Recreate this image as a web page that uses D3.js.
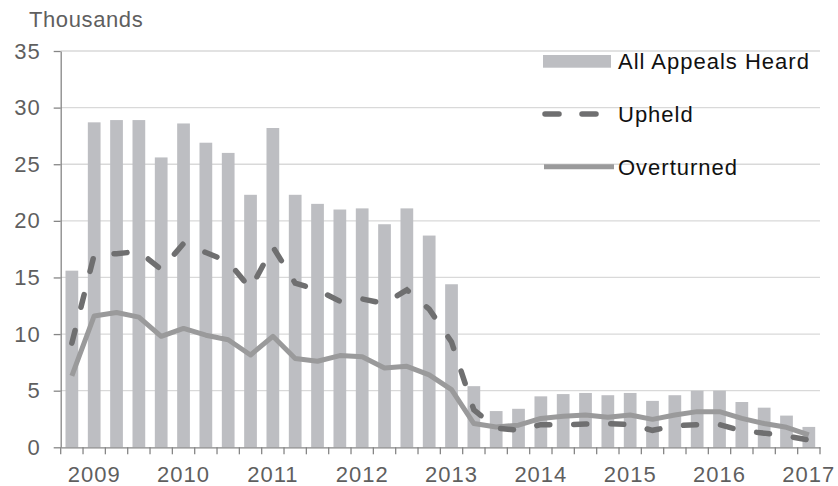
<!DOCTYPE html>
<html>
<head>
<meta charset="utf-8">
<script src="https://cdn.jsdelivr.net/npm/d3@7"></script>
<style>
  body { margin: 0; background: #fff; }
  svg { display: block; font-family: "Liberation Sans", Arial, sans-serif; }
</style>
</head>
<body>
<div class="chartPlaceholder"></div>
<script>
const quarters = [
    '2008 Q4',
    '2009 Q1', '2009 Q2', '2009 Q3', '2009 Q4',
    '2010 Q1', '2010 Q2', '2010 Q3', '2010 Q4',
    '2011 Q1', '2011 Q2', '2011 Q3', '2011 Q4',
    '2012 Q1', '2012 Q2', '2012 Q3', '2012 Q4',
    '2013 Q1', '2013 Q2', '2013 Q3', '2013 Q4',
    '2014 Q1', '2014 Q2', '2014 Q3', '2014 Q4',
    '2015 Q1', '2015 Q2', '2015 Q3', '2015 Q4',
    '2016 Q1', '2016 Q2', '2016 Q3', '2016 Q4',
    '2017 Q1'
];
const allHeard = [
    15.6, 28.7, 28.9, 28.9, 25.6, 28.6, 26.9, 26.0, 22.3, 28.2, 22.3, 21.5,
    21.0, 21.1, 19.7, 21.1, 18.7, 14.4, 5.4, 3.2, 3.4, 4.5, 4.7, 4.8,
    4.6, 4.8, 4.1, 4.6, 5.0, 5.0, 4.0, 3.5, 2.8, 1.8
];
const upheld = [
    9.2, 17.0, 17.1, 17.3, 15.7, 18.0, 17.2, 16.4, 14.0, 17.7, 14.5, 13.9,
    12.9, 13.1, 12.7, 13.9, 12.2, 9.3, 3.3, 1.7, 1.5, 2.0, 2.0, 2.05,
    2.1, 2.0, 1.5, 1.9, 2.0, 2.0, 1.45, 1.25, 1.0, 0.65
];
const overturned = [
    6.3, 11.6, 11.9, 11.5, 9.8, 10.5, 9.9, 9.5, 8.15, 9.8, 7.85, 7.6,
    8.1, 8.0, 7.0, 7.15, 6.4, 5.1, 2.1, 1.8, 1.95, 2.55, 2.75, 2.85,
    2.65, 2.85, 2.47, 2.85, 3.15, 3.15, 2.55, 2.1, 1.77, 1.1
];
const yTicks = [0, 5, 10, 15, 20, 25, 30, 35];
const yearLabels = {
    '2009 Q1': '2009', '2010 Q1': '2010', '2011 Q1': '2011', '2012 Q1': '2012',
    '2013 Q1': '2013', '2014 Q1': '2014', '2015 Q1': '2015', '2016 Q1': '2016',
    '2017 Q1': '2017'
};
const legendNames = ['All Appeals Heard', 'Upheld', 'Overturned'];

const WIDTH = 838;
const HEIGHT = 486;
const PLOT = { LEFT: 60.7, RIGHT: 820, TOP: 51, BOTTOM: 447.3 };
const BAR_COLOR = '#bdbec2';
const UPHELD_COLOR = '#6f6f70';
const OVERTURNED_COLOR = '#9a9a9b';
const TEXT_COLOR = '#5f5f5f';

let svg = d3
    .select('.chartPlaceholder')
    .append('svg')
    .attr('width', WIDTH)
    .attr('height', HEIGHT);

let xScale = d3.scaleBand()
    .domain(quarters)
    .range([PLOT.LEFT, PLOT.RIGHT])
    .paddingInner(0.43)
    .paddingOuter(0.215);

let bandScale = d3.scaleBand().domain(quarters).range([PLOT.LEFT, PLOT.RIGHT]);

let yScale = d3.scaleLinear().domain([0, 35]).range([PLOT.BOTTOM, PLOT.TOP]);

// 1. gridlines
svg.append('g')
    .selectAll('line')
    .data(yTicks.filter(d => d > 0))
    .enter()
    .append('line')
    .attr('x1', PLOT.LEFT)
    .attr('x2', PLOT.RIGHT)
    .attr('y1', d => yScale(d))
    .attr('y2', d => yScale(d))
    .attr('stroke', '#d9d9d9')
    .attr('stroke-width', 1.3);

// 2. bars
svg.append('g')
    .selectAll('rect')
    .data(allHeard)
    .enter()
    .append('rect')
    .attr('x', (d, i) => xScale(quarters[i]))
    .attr('y', d => yScale(d))
    .attr('width', xScale.bandwidth())
    .attr('height', d => PLOT.BOTTOM - yScale(d))
    .attr('fill', BAR_COLOR);

// 3. lines
let line = d3.line()
    .x((d, i) => bandScale(quarters[i]) + bandScale.bandwidth() / 2)
    .y(d => yScale(d));

svg.append('path')
    .datum(overturned)
    .attr('d', line)
    .attr('fill', 'none')
    .attr('stroke', OVERTURNED_COLOR)
    .attr('stroke-width', 5)
    .attr('stroke-linejoin', 'round');

svg.append('path')
    .datum(upheld)
    .attr('d', line)
    .attr('fill', 'none')
    .attr('stroke', UPHELD_COLOR)
    .attr('stroke-width', 5.5)
    .attr('stroke-linecap', 'round')
    .attr('stroke-dasharray', '13,24');

// 4. axes
let yAxis = d3.axisLeft(yScale).tickValues(yTicks).tickSize(7).tickSizeOuter(0).tickPadding(13);
let yG = svg.append('g')
    .attr('transform', `translate(${PLOT.LEFT},0)`)
    .call(yAxis);

let xAxis = d3.axisBottom(bandScale)
    .tickValues(quarters.filter(q => yearLabels[q]))
    .tickFormat(q => yearLabels[q])
    .tickSize(0)
    .tickPadding(19.5);
let xG = svg.append('g')
    .attr('transform', `translate(0,${PLOT.BOTTOM})`)
    .call(xAxis);

// quarter boundary ticks
xG.append('g')
    .selectAll('line')
    .data(quarters.concat(['end']))
    .enter()
    .append('line')
    .attr('x1', (d, i) => i < quarters.length ? bandScale(d) : PLOT.RIGHT)
    .attr('x2', (d, i) => i < quarters.length ? bandScale(d) : PLOT.RIGHT)
    .attr('y1', 0)
    .attr('y2', 7)
    .attr('stroke', '#868686')
    .attr('stroke-width', 1.3);

[yG, xG].forEach(g => {
    g.selectAll('.domain').attr('stroke', '#868686').attr('stroke-width', 1.3);
    g.selectAll('.tick line').attr('stroke', '#868686').attr('stroke-width', 1.3);
    g.selectAll('.tick text')
        .attr('fill', TEXT_COLOR)
        .style('font-size', '22px')
        .style('letter-spacing', '1px');
});

svg.append('text')
    .attr('x', 29)
    .attr('y', 27.3)
    .attr('fill', TEXT_COLOR)
    .style('font-size', '22px')
    .style('letter-spacing', '0.6px')
    .text('Thousands');

// 5. legend
let legend = svg.append('g');

legend.append('rect')
    .attr('x', 543)
    .attr('y', 55)
    .attr('width', 68)
    .attr('height', 12.7)
    .attr('fill', BAR_COLOR);

legend.append('line')
    .attr('x1', 545)
    .attr('x2', 611)
    .attr('y1', 114)
    .attr('y2', 114)
    .attr('stroke', UPHELD_COLOR)
    .attr('stroke-width', 5.5)
    .attr('stroke-linecap', 'round')
    .attr('stroke-dasharray', '14,23');

legend.append('line')
    .attr('x1', 544)
    .attr('x2', 614)
    .attr('y1', 166.7)
    .attr('y2', 166.7)
    .attr('stroke', OVERTURNED_COLOR)
    .attr('stroke-width', 5);

legend.selectAll('text')
    .data(legendNames)
    .enter()
    .append('text')
    .attr('x', 618)
    .attr('y', (d, i) => 69 + i * 53)
    .attr('fill', '#111')
    .style('font-size', '22px')
    .style('letter-spacing', '1px')
    .text(d => d);
</script>
</body>
</html>
